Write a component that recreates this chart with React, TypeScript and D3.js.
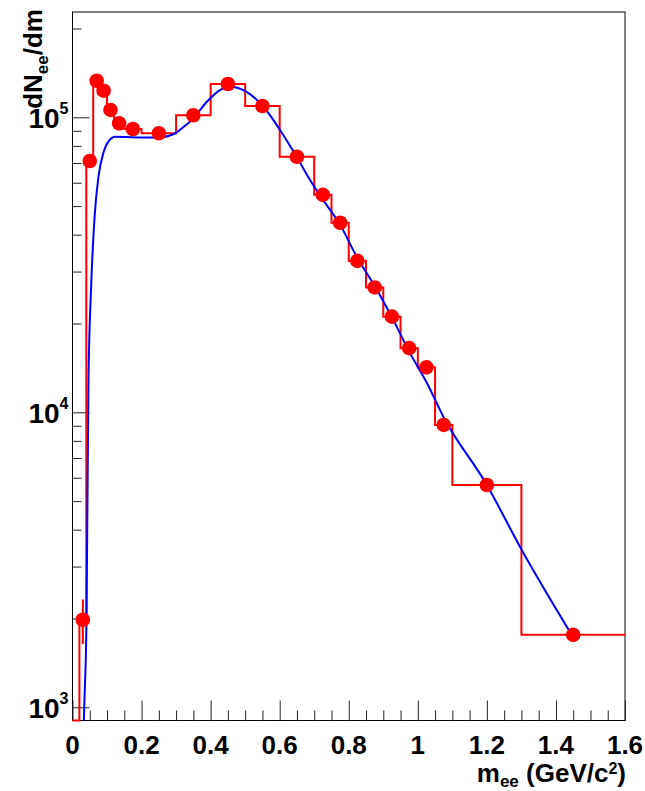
import React, { useEffect, useRef } from 'react';
import * as d3 from 'd3';

// bin edges of the red histogram (GeV/c^2)
const binEdges = [0, 0.02, 0.04, 0.06, 0.08, 0.1, 0.12, 0.15, 0.2, 0.3, 0.4, 0.5, 0.6, 0.7, 0.75, 0.8, 0.85, 0.9, 0.95, 1.0, 1.05, 1.1, 1.3, 1.6];
const binContents = [0, 1980, 71100, 133000, 123100, 105900, 95400, 91300, 88300, 101600, 129700, 109200, 73500, 54600, 43900, 32600, 26500, 21100, 16500, 14200, 9060, 5670, 1760];

// markers (bin centres)
const pointMass = [0.03, 0.05, 0.07, 0.09, 0.11, 0.135, 0.175, 0.25, 0.35, 0.45, 0.55, 0.65, 0.725, 0.775, 0.825, 0.875, 0.925, 0.975, 1.025, 1.075, 1.2, 1.45];
const pointYield = [1980, 71100, 133000, 123100, 105900, 95400, 91300, 88300, 101600, 129700, 109200, 73500, 54600, 43900, 32600, 26500, 21100, 16500, 14200, 9060, 5670, 1760];
const pointErr = [340, 1200, 1600, 1500, 1400, 1300, 1000, 700, 700, 800, 750, 600, 500, 450, 380, 330, 290, 250, 230, 180, 90, 40];

// blue fit curve
const fitMass = [0.03, 0.033, 0.0405, 0.0463, 0.0536, 0.0643, 0.0759, 0.0904, 0.1048, 0.124, 0.192, 0.25, 0.298, 0.317, 0.35, 0.389, 0.427, 0.456, 0.504, 0.553, 0.601, 0.649, 0.688, 0.722, 0.775, 0.823, 0.876, 0.924, 0.977, 1.026, 1.074, 1.2, 1.301, 1.449];
const fitYield = [600, 906, 1980, 12860, 26000, 46600, 63700, 76400, 83100, 85900, 85500, 85500, 88300, 91800, 99200, 112900, 123700, 127000, 122000, 108600, 90600, 73500, 61300, 53200, 43200, 33700, 26700, 21100, 15900, 12600, 9660, 5670, 3413, 1734];

const xMajor = [0, 0.2, 0.4, 0.6, 0.8, 1, 1.2, 1.4, 1.6];
const yMajor = [1e3, 1e4, 1e5];
const yMajorExp = ['3', '4', '5'];

const FONT = 'Liberation Sans, Arial, Helvetica, sans-serif';

const App = () => {
  const svgRef = useRef<SVGSVGElement>(null);

  useEffect(() => {
    const svg = d3.select(svgRef.current);
    svg.selectAll('*').remove();

    const left = 72.5, right = 625, top = 12, bottom = 720.5;

    const x = d3.scaleLinear().domain([0, 1.6]).range([left, right]);
    const y = d3.scaleLog().domain([902, 227500]).range([bottom, top]);
    const yv = (v: number) => (v > 0 ? Math.max(top, Math.min(bottom, y(v))) : bottom);

    svg.append('rect').attr('width', 645).attr('height', 791).attr('fill', '#fff');

    svg.append('defs').append('clipPath').attr('id', 'plotclip')
      .append('rect').attr('x', left).attr('y', top).attr('width', right - left).attr('height', bottom - top);

    // frame
    svg.append('rect')
      .attr('x', left).attr('y', top).attr('width', right - left).attr('height', bottom - top)
      .attr('fill', 'none').attr('stroke', '#000').attr('stroke-width', 1);

    // x ticks
    const xMinor = d3.range(0, 32).map((i) => i * 0.05).filter((d) => !xMajor.some((m) => Math.abs(m - d) < 1e-6));
    const gx = svg.append('g').attr('transform', `translate(0,${bottom})`);
    gx.append('g').call(d3.axisBottom(x).tickValues(xMajor).tickSize(-20).tickFormat(() => ''));
    gx.append('g').call(d3.axisBottom(x).tickValues(xMinor).tickSize(-10).tickFormat(() => ''));
    gx.selectAll('.domain').remove();
    gx.selectAll('line').attr('stroke', '#222');

    // y ticks
    const yMinor: number[] = [];
    [1e2, 1e3, 1e4, 1e5].forEach((dec) => {
      for (let k = 2; k <= 9; k++) {
        const v = k * dec;
        if (v > 902 && v < 227500) yMinor.push(v);
      }
    });
    const gy = svg.append('g').attr('transform', `translate(${left},0)`);
    gy.append('g').call(d3.axisLeft(y).tickValues(yMajor).tickSize(-17).tickFormat(() => ''));
    gy.append('g').call(d3.axisLeft(y).tickValues(yMinor).tickSize(-9).tickFormat(() => ''));
    gy.selectAll('.domain').remove();
    gy.selectAll('line').attr('stroke', '#222');

    // x labels
    svg.append('g').selectAll('text').data(xMajor).join('text')
      .attr('x', (d) => x(d)).attr('y', 754)
      .attr('text-anchor', 'middle')
      .attr('font-family', FONT).attr('font-weight', 'bold').attr('font-size', 26)
      .text((d) => String(+d.toFixed(1)));

    // y labels 10^n
    const yl = svg.append('g').selectAll('text').data(yMajor).join('text')
      .attr('x', 68.5).attr('y', (d) => y(d) + 10.5)
      .attr('text-anchor', 'end')
      .attr('font-family', FONT).attr('font-weight', 'bold').attr('font-size', 28);
    yl.append('tspan').text('10');
    yl.append('tspan').attr('font-size', 16).attr('dy', -14).text((d, i) => yMajorExp[i]);

    // x title
    const xt = svg.append('text').attr('x', 626).attr('y', 782).attr('text-anchor', 'end')
      .attr('font-family', FONT).attr('font-weight', 'bold').attr('font-size', 26);
    xt.append('tspan').text('m');
    xt.append('tspan').attr('font-size', 17).attr('dy', 5).text('ee');
    xt.append('tspan').attr('dy', -5).text(' (GeV/c');
    xt.append('tspan').attr('font-size', 16).attr('dy', -8).text('2');
    xt.append('tspan').attr('dy', 8).text(')');

    // y title
    const yt = svg.append('text').attr('transform', `translate(42,9) rotate(-90)`).attr('text-anchor', 'end')
      .attr('font-family', FONT).attr('font-weight', 'bold').attr('font-size', 26);
    yt.append('tspan').text('dN');
    yt.append('tspan').attr('font-size', 17).attr('dy', 6).text('ee');
    yt.append('tspan').attr('dy', -6).text('/dm');

    // histogram
    const steps: [number, number][] = [];
    binContents.forEach((v, i) => {
      steps.push([binEdges[i], v]);
      steps.push([binEdges[i + 1], v]);
    });
    svg.append('path')
      .datum(steps)
      .attr('fill', 'none').attr('stroke', '#ff0000').attr('stroke-width', 2)
      .attr('d', d3.line<[number, number]>().x((d) => x(d[0])).y((d) => yv(d[1])));

    // error bars
    svg.append('g').selectAll('line').data(pointMass).join('line')
      .attr('x1', (d) => x(d)).attr('x2', (d) => x(d))
      .attr('y1', (d, i) => yv(pointYield[i] + pointErr[i]))
      .attr('y2', (d, i) => yv(pointYield[i] - pointErr[i]))
      .attr('stroke', '#ff0000').attr('stroke-width', 2);

    // fit
    const fitPts = fitMass.map((m, i) => [m, fitYield[i]] as [number, number]);
    svg.append('path')
      .datum(fitPts)
      .attr('clip-path', 'url(#plotclip)')
      .attr('fill', 'none').attr('stroke', '#0000ff').attr('stroke-width', 2)
      .attr('d', d3.line<[number, number]>().x((d) => x(d[0])).y((d) => y(d[1])).curve(d3.curveMonotoneX));

    // markers
    svg.append('g').selectAll('circle').data(pointMass).join('circle')
      .attr('cx', (d) => x(d)).attr('cy', (d, i) => yv(pointYield[i]))
      .attr('r', 7.3).attr('fill', '#ff0000');
  }, []);

  return (
    <svg ref={svgRef} width={645} height={791} style={{ position: 'absolute', left: 0, top: 0 }} />
  );
};

export default App;
